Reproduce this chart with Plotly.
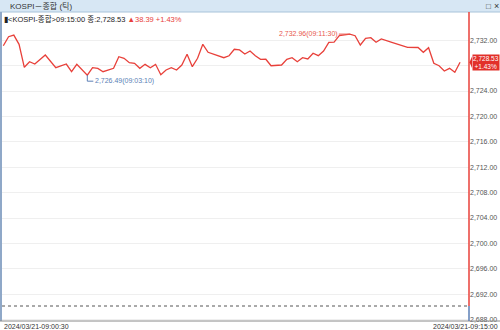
import plotly.graph_objects as go

# ---- data ----
date = "2024-03-21"
times = ["09:00:30","09:00:40","09:00:50","09:01:00","09:01:10","09:01:20","09:01:30","09:01:50",
         "09:02:10","09:02:30","09:02:40","09:02:50","09:03:10","09:03:20","09:03:30","09:03:40",
         "09:04:00","09:04:10","09:04:20","09:04:30","09:04:40","09:04:50","09:05:00","09:05:10",
         "09:05:20","09:05:30","09:05:40","09:05:50","09:06:00","09:06:10","09:06:20","09:06:30",
         "09:06:40","09:06:50","09:07:00","09:07:20","09:07:30","09:07:40","09:07:50","09:08:00",
         "09:08:10","09:08:20","09:08:30","09:08:40","09:08:50","09:09:00","09:09:20","09:09:30",
         "09:09:40","09:09:50","09:10:00","09:10:10","09:10:20","09:10:30","09:10:40","09:10:50",
         "09:11:00","09:11:10","09:11:30","09:11:40","09:11:50","09:12:00","09:12:10","09:12:20",
         "09:12:30","09:12:50","09:13:20","09:13:40","09:13:50","09:14:00","09:14:10","09:14:20",
         "09:14:30","09:14:40","09:14:50","09:15:00"]
prices = [2731.13,2732.55,2732.80,2731.35,2727.73,2728.61,2728.25,2729.67,
          2727.67,2728.25,2727.04,2728.20,2726.49,2727.67,2727.57,2727.04,
          2727.57,2729.40,2729.15,2728.46,2728.36,2727.57,2728.20,2727.67,
          2728.20,2726.55,2727.31,2727.67,2727.31,2728.09,2729.78,2727.83,
          2729.15,2731.35,2730.09,2729.56,2729.24,2729.55,2730.57,2730.46,
          2729.83,2730.30,2729.56,2728.99,2729.00,2727.98,2728.09,2728.99,
          2729.24,2728.61,2729.24,2729.04,2729.94,2729.56,2730.30,2731.67,
          2731.70,2732.71,2732.96,2732.71,2731.24,2732.30,2732.39,2731.67,
          2732.19,2731.67,2730.88,2730.85,2730.09,2730.82,2728.36,2727.98,
          2727.15,2727.57,2726.94,2728.53]
prev_close = 2690.14
y_ticks = [2688, 2692, 2696, 2700, 2704, 2708, 2712, 2716, 2720, 2724, 2728, 2732]
title_text = "KOSPI－종합 (틱)"
name_text = "KOSPI-종합"

# ---- derived ----
xs = [f"{date} {t}" for t in times]
last = prices[-1]
chg = last - prev_close
pct = chg / prev_close * 100
imax = prices.index(max(prices))
imin = prices.index(min(prices))
# the tick label hidden behind the price tag is left blank
tick_text = ["" if abs(v - last) < 2 else f"{v:,.2f}" for v in y_ticks]

RED = "#e8403a"
BLUE = "#5b7fb6"
FONT = "Liberation Sans, Noto Sans CJK KR, sans-serif"

fig = go.Figure()
fig.add_trace(go.Scatter(x=xs, y=prices, mode="lines",
                         line=dict(color=RED, width=1.3), hoverinfo="skip"))

W, H = 500, 330
ml, mr, mt, mb = 2, 31, 12, 9
pw = W - ml - mr
ph = H - mt - mb

ymin, ymax = 2687.78, 2736.44

fig.update_layout(
    width=W, height=H, margin=dict(l=ml, r=mr, t=mt, b=mb),
    paper_bgcolor="white", plot_bgcolor="white", showlegend=False,
    xaxis=dict(range=[f"{date} 09:00:27.5", f"{date} 09:15:17"], showticklabels=False,
               showgrid=False, zeroline=False, showline=False, ticks=""),
    yaxis=dict(range=[ymin, ymax], side="right", tickvals=y_ticks, ticktext=tick_text,
               showgrid=True, gridcolor="#efefef", gridwidth=1, ticklabelstandoff=0,
               zeroline=False, showline=False, ticks="",
               tickfont=dict(family=FONT, size=7, color="#555555")),
)

shapes = []
# title bar
shapes.append(dict(type="rect", xref="paper", yref="paper", x0=-ml/pw, x1=1+mr/pw,
                   y0=1, y1=1+mt/ph, fillcolor="#d7e7f4", line=dict(width=0), layer="above"))
shapes.append(dict(type="line", xref="paper", yref="paper", x0=-ml/pw, x1=1+mr/pw,
                   y0=1, y1=1, line=dict(color="#a8c3da", width=1)))
# left border
shapes.append(dict(type="rect", xref="paper", yref="paper", x0=-ml/pw, x1=0,
                   y0=0, y1=1, fillcolor="#8fa8c8", line=dict(width=0)))
# bottom axis line
shapes.append(dict(type="line", xref="paper", yref="paper", x0=-ml/pw, x1=1+mr/pw,
                   y0=0, y1=0, line=dict(color="#8a8a8a", width=1)))
# prev close dotted line
shapes.append(dict(type="line", xref="paper", yref="y", x0=0, x1=1, y0=prev_close, y1=prev_close,
                   line=dict(color="#555555", width=1, dash="dot")))
# right axis line, red above prev close, blue below
shapes.append(dict(type="line", xref="paper", yref="y", x0=1, x1=1, y0=prev_close, y1=ymax,
                   line=dict(color=RED, width=1.5)))
shapes.append(dict(type="line", xref="paper", yref="y", x0=1, x1=1, y0=ymin, y1=prev_close,
                   line=dict(color=BLUE, width=1.5)))
# max connector
shapes.append(dict(type="line", xref="x", yref="y", xsizemode="pixel", xanchor=xs[imax],
                   x0=-11, x1=0, y0=prices[imax], y1=prices[imax],
                   line=dict(color="#e8584f", width=1)))
# min connector
shapes.append(dict(type="line", xref="x", yref="y", xsizemode="pixel", ysizemode="pixel",
                   xanchor=xs[imin], yanchor=prices[imin], x0=0, x1=0, y0=0, y1=-6,
                   line=dict(color=BLUE, width=1)))
shapes.append(dict(type="line", xref="x", yref="y", xsizemode="pixel", ysizemode="pixel",
                   xanchor=xs[imin], yanchor=prices[imin], x0=0, x1=6, y0=-6, y1=-6,
                   line=dict(color=BLUE, width=1)))
# price tag arrow
shapes.append(dict(type="path", xref="paper", yref="y",
                   path=f"M {1+0.5/pw},{last} L {1+3/pw},{last+0.9} L {1+3/pw},{last-0.9} Z",
                   fillcolor="#e2302a", line=dict(width=0)))
fig.update_layout(shapes=shapes)

ann = []
ann.append(dict(xref="paper", yref="paper", x=6/pw, y=1+mt/ph/2, xanchor="left", yanchor="middle",
                text=title_text, showarrow=False, font=dict(family=FONT, size=8, color="#333333")))
ann.append(dict(xref="paper", yref="paper", x=1+(mr-12)/pw, y=1+mt/ph/2, xanchor="center", yanchor="middle",
                text="□", showarrow=False, font=dict(family=FONT, size=8, color="#333333")))
ann.append(dict(xref="paper", yref="paper", x=1+(mr-4)/pw, y=1+mt/ph/2, xanchor="center", yanchor="middle",
                text="×", showarrow=False, font=dict(family=FONT, size=9, color="#333333")))
hdr = (f"▮&lt;{name_text}&gt;{times[-1]} 종:{last:,.2f} "
       f"<span style='color:{RED}'>▲{chg:.2f} +{pct:.2f}%</span>")
ann.append(dict(xref="paper", yref="paper", x=0, y=1, xanchor="left", yanchor="top", yshift=-1,
                text=hdr, showarrow=False, font=dict(family=FONT, size=7.5, color="#222222")))
ann.append(dict(xref="x", yref="y", x=xs[imax], y=prices[imax], xanchor="right", yanchor="middle",
                xshift=-10, text=f"{prices[imax]:,.2f}({times[imax]})", showarrow=False,
                font=dict(family=FONT, size=7, color="#e8584f")))
ann.append(dict(xref="x", yref="y", x=xs[imin], y=prices[imin], xanchor="left", yanchor="middle",
                xshift=6, yshift=-6, text=f"{prices[imin]:,.2f}({times[imin]})", showarrow=False,
                font=dict(family=FONT, size=7, color=BLUE)))
ann.append(dict(xref="paper", yref="y", x=1+3/pw, y=last, xanchor="left", yanchor="middle",
                text=f"{last:,.2f}<br>+{pct:.2f}%", showarrow=False, bgcolor="#e2302a",
                borderpad=0, font=dict(family=FONT, size=6.5, color="white")))
ann.append(dict(xref="paper", yref="paper", x=0, y=0, xanchor="left", yanchor="top",
                text=f"{date.replace('-', '/')}-{times[0]}", showarrow=False,
                font=dict(family=FONT, size=7, color="#333333")))
ann.append(dict(xref="paper", yref="paper", x=1+mr/pw, y=0, xanchor="right", yanchor="top",
                text=f"{date.replace('-', '/')}-{times[-1]}", showarrow=False,
                font=dict(family=FONT, size=7, color="#333333")))
fig.update_layout(annotations=ann)

fig.write_html("out.html")
